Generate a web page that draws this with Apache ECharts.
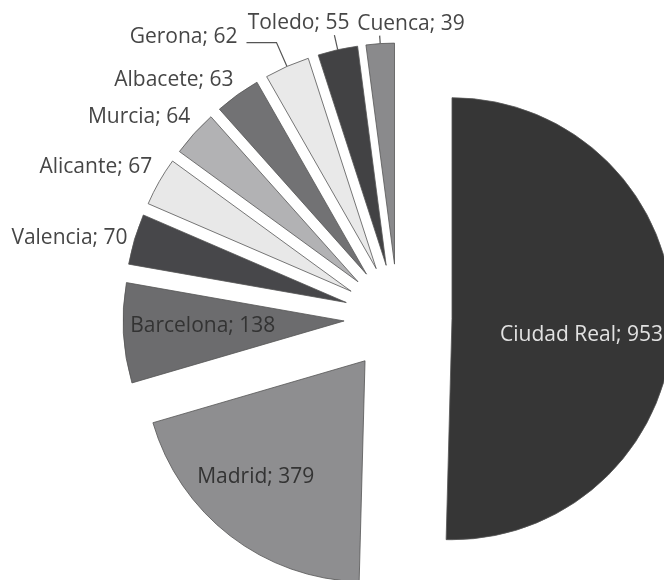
<!DOCTYPE html>
<html>
<head>
<meta charset="utf-8">
<title>Pie</title>
<script src="https://cdn.jsdelivr.net/npm/echarts@6/dist/echarts.min.js"></script>
<style>
  html, body { margin: 0; padding: 0; background: #fff; }
  #main { width: 664px; height: 580px; }
</style>
</head>
<body>
<div id="main"></div>
<script type="text/javascript">
  // datos
  var cities = ['Ciudad Real', 'Madrid', 'Barcelona', 'Valencia', 'Alicante',
                'Murcia', 'Albacete', 'Gerona', 'Toledo', 'Cuenca'];
  var counts = [953, 379, 138, 70, 67, 64, 63, 62, 55, 39];
  var greys = ['#363636', '#8e8e90', '#6c6c6e', '#47474a', '#e8e8e8',
               '#b2b2b4', '#727274', '#e9e9e9', '#424244', '#8a8a8c'];

  // ajuste de etiquetas respecto a la posicion por defecto
  var shift = [[16, 15], [-40, 26], [-28, -1], [-2, -1], [-2, -15],
               [1, -16], [1, -15], [-4, -6], [20, -12], [90, -12]];
  // linea guia: [length, length2], solo Gerona, Toledo y Cuenca
  var guide = [null, null, null, null, null, null, null, [26, 30], [15, 0], [8, 0]];

  var arr = [];
  for (var i = 0; i < cities.length; i++) {
    var inside = i < 3;
    var g = guide[i];
    arr.push({
      name: cities[i],
      value: counts[i],
      selected: true,
      itemStyle: { color: greys[i] },
      label: {
        position: inside ? 'inside' : 'outside',
        color: i === 0 ? '#e2e2e2' : (inside ? '#333' : '#464646')
      },
      labelLine: g ? { show: true, length: g[0], length2: g[1] }
                   : { show: false, length: 0, length2: 0 }
    });
  }

  var myChart = echarts.init(document.getElementById('main'));
  var option = {
    animation: false,
    series: [
      {
        type: 'pie',
        center: [398, 318],
        radius: [0, 221],
        startAngle: 90,
        clockwise: true,
        selectedMode: 'multiple',
        selectedOffset: 54,
        avoidLabelOverlap: false,
        itemStyle: {
          borderColor: '#555',
          borderWidth: 0.8
        },
        label: {
          show: true,
          formatter: '{b}; {c}',
          fontFamily: 'Open Sans',
          fontSize: 21
        },
        labelLine: {
          lineStyle: { color: '#555', width: 1.2 }
        },
        labelLayout: function (params) {
          var s = shift[params.dataIndex];
          return { dx: s[0], dy: s[1] };
        },
        emphasis: { disabled: true },
        data: arr
      }
    ]
  };
  myChart.setOption(option);
</script>
</body>
</html>
